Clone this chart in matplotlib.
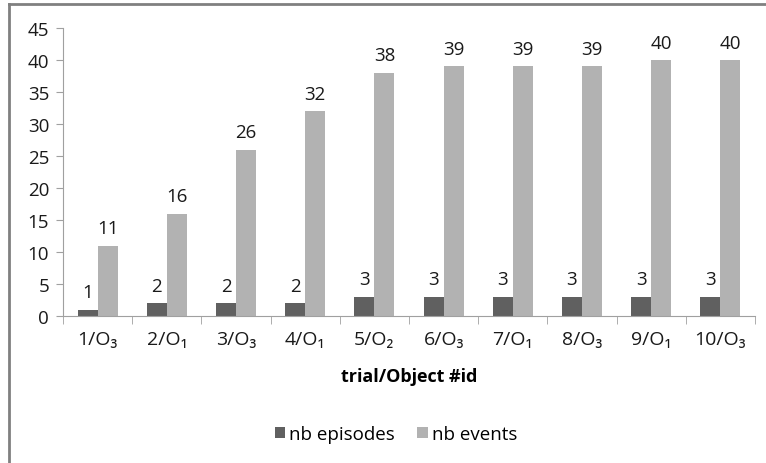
import numpy as np
import matplotlib.pyplot as plt
from matplotlib.lines import Line2D

plt.rcParams['font.family'] = ['Open Sans', 'DejaVu Sans']

# data
trials = ['1/O₃', '2/O₁', '3/O₃', '4/O₁', '5/O₂', '6/O₃', '7/O₁', '8/O₃', '9/O₁', '10/O₃']
nb_episodes = [1, 2, 2, 2, 3, 3, 3, 3, 3, 3]
nb_events = [11, 16, 26, 32, 38, 39, 39, 39, 40, 40]

fig = plt.figure(figsize=(7.66, 4.64), dpi=100)
ax = fig.add_axes([63 / 766, 1 - 317 / 464, 692 / 766, 288 / 464])

x = np.arange(len(trials))
w = 0.29
b1 = ax.bar(x - w / 2, nb_episodes, w, color='#606060', label='nb episodes')
b2 = ax.bar(x + w / 2, nb_events, w, color='#b2b2b2', label='nb events')

for bars in (b1, b2):
    for r in bars:
        ax.annotate(str(int(r.get_height())), (r.get_x() + r.get_width() / 2, r.get_height()),
                    xytext=(0, 6), textcoords='offset points', ha='center', va='bottom',
                    fontsize=13.5, color='#1a1a1a')

ax.set_xlim(-0.5, len(trials) - 0.5)
ax.set_ylim(0, 45)
ax.set_yticks(range(0, 46, 5))
ax.set_xticks(x)
ax.set_xticklabels(trials)
ax.set_xticks(np.arange(-0.5, len(trials)), minor=True)
ax.tick_params(axis='x', which='major', length=0, pad=10, labelsize=14, labelcolor='#1a1a1a')
ax.tick_params(axis='x', which='minor', length=6, color='#a0a0a0', direction='out')
ax.tick_params(axis='y', length=5, color='#a0a0a0', labelsize=13.5, labelcolor='#1a1a1a', pad=5)

for s in ('top', 'right'):
    ax.spines[s].set_visible(False)
ax.spines['left'].set_color('#a0a0a0')
ax.spines['bottom'].set_color('#a0a0a0')

ax.set_xlabel('trial/Object #id', fontsize=13, fontweight='bold')
ax.xaxis.set_label_coords(0.5, -(377 - 317) / 288)
ax.xaxis.label.set_va('center')

fig.legend(loc='center', bbox_to_anchor=(396 / 766, 1 - 435 / 464), ncol=2, frameon=False,
           fontsize=13.5, handlelength=0.55, handleheight=0.55, handletextpad=0.2, columnspacing=1.2)

# outer chart border (only top and left visible in the crop)
fig.add_artist(Line2D([9 / 766, 1], [1 - 5 / 464, 1 - 5 / 464], transform=fig.transFigure,
                      color='#808080', lw=2))
fig.add_artist(Line2D([9 / 766, 9 / 766], [0, 1 - 5 / 464], transform=fig.transFigure,
                      color='#808080', lw=2))

fig.savefig('out.png', dpi=100)
